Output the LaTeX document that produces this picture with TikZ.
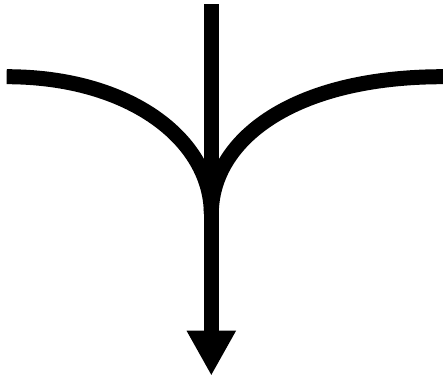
\documentclass[tikz,border=0pt]{standalone}
\usetikzlibrary{arrows.meta}
\begin{document}
\begin{tikzpicture}[x=1pt,y=-1pt,
  flow/.style={line width=15pt,line cap=butt,black}]
\useasboundingbox (0,0) rectangle (443,376);
\coordinate (top) at (211.3,4.3);
\coordinate (tip) at (211.3,375.7);
\coordinate (left) at (6.7,76.7);
\coordinate (right) at (443,76.7);
\coordinate (merge) at (211.3,214);
\draw[flow] (left) .. controls (130,76.7) and (211.3,140) .. (merge);
\draw[flow] (right) .. controls (292.6,76.7) and (211.3,140) .. (merge);
\draw[flow,-{Triangle[width=46pt,length=45pt]}] (top) -- (tip);
\end{tikzpicture}
\end{document}
